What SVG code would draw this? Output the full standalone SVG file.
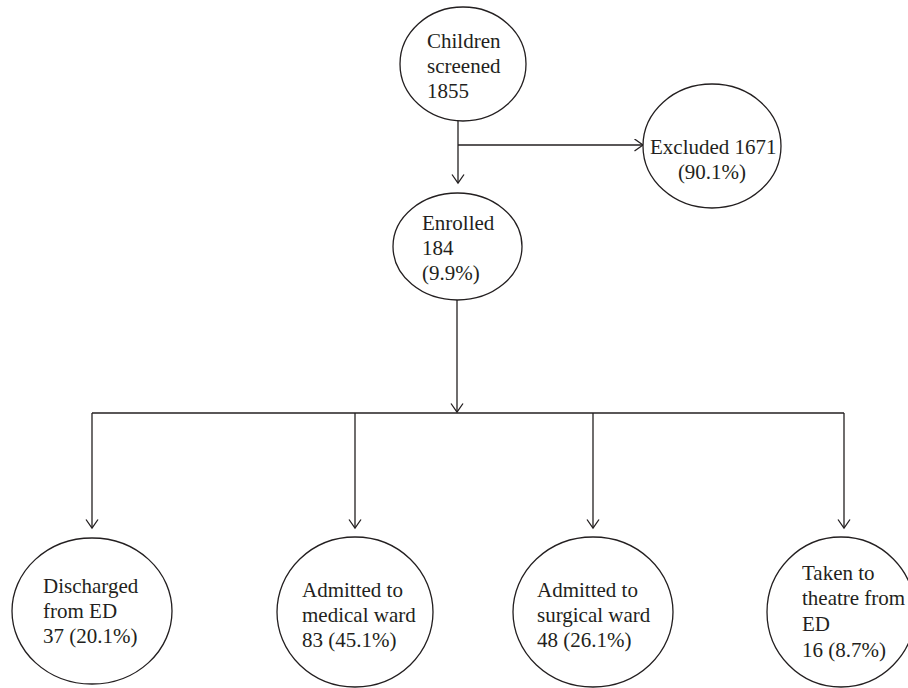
<svg xmlns="http://www.w3.org/2000/svg" width="908" height="688" viewBox="0 0 908 688">
<style>
  .node ellipse { fill: #ffffff; stroke: #231f20; stroke-width: 1.3; }
  .node text { font-family: "Liberation Serif", "Times New Roman", serif; font-size: 21px; fill: #231f20; }
  #connectors line { stroke: #231f20; stroke-width: 1.3; fill: none; }
</style>
<defs>
  <marker id="arrow" markerUnits="userSpaceOnUse" markerWidth="12" markerHeight="16" refX="9" refY="6.5" orient="auto">
    <path d="M0.5,0.5 L9,6.5 L0.5,12.5" fill="none" stroke="#231f20" stroke-width="1.3"/>
  </marker>
</defs>
<rect width="908" height="688" fill="#ffffff"/>
<g id="connectors">
  <line x1="458" y1="121" x2="458" y2="183" marker-end="url(#arrow)"/>
  <line x1="458" y1="145" x2="643" y2="145" marker-end="url(#arrow)"/>
  <line x1="457" y1="300" x2="457" y2="412" marker-end="url(#arrow)"/>
  <line x1="92" y1="413" x2="844" y2="413"/>
  <line x1="92" y1="413" x2="92" y2="528" marker-end="url(#arrow)"/>
  <line x1="355" y1="413" x2="355" y2="528" marker-end="url(#arrow)"/>
  <line x1="593" y1="413" x2="593" y2="528" marker-end="url(#arrow)"/>
  <line x1="844" y1="413" x2="844" y2="528" marker-end="url(#arrow)"/>
</g>
<g id="screened" class="node">
  <ellipse cx="463" cy="64" rx="63" ry="57"/>
  <text x="427" y="48">Children</text>
  <text x="427" y="73">screened</text>
  <text x="427" y="98">1855</text>
</g>
<g id="excluded" class="node">
  <ellipse cx="712" cy="146" rx="69" ry="62"/>
  <text x="650" y="154">Excluded 1671</text>
  <text x="712" y="179" text-anchor="middle">(90.1%)</text>
</g>
<g id="enrolled" class="node">
  <ellipse cx="457.5" cy="246.5" rx="64.5" ry="53.5"/>
  <text x="422" y="230">Enrolled</text>
  <text x="422" y="255">184</text>
  <text x="422" y="280">(9.9%)</text>
</g>
<g id="discharged" class="node">
  <ellipse cx="92" cy="611" rx="80" ry="73"/>
  <text x="43" y="593">Discharged</text>
  <text x="43" y="618">from ED</text>
  <text x="43" y="643">37 (20.1%)</text>
</g>
<g id="medical" class="node">
  <ellipse cx="355" cy="612" rx="78" ry="75"/>
  <text x="302" y="597">Admitted to</text>
  <text x="302" y="622">medical ward</text>
  <text x="302" y="647">83 (45.1%)</text>
</g>
<g id="surgical" class="node">
  <ellipse cx="593" cy="612" rx="80" ry="75"/>
  <text x="537" y="597">Admitted to</text>
  <text x="537" y="622">surgical ward</text>
  <text x="537" y="647">48 (26.1%)</text>
</g>
<g id="theatre" class="node">
  <ellipse cx="841" cy="612" rx="74" ry="75"/>
  <text x="802" y="580">Taken to</text>
  <text x="802" y="605">theatre from</text>
  <text x="802" y="631">ED</text>
  <text x="802" y="657">16 (8.7%)</text>
</g>
</svg>
